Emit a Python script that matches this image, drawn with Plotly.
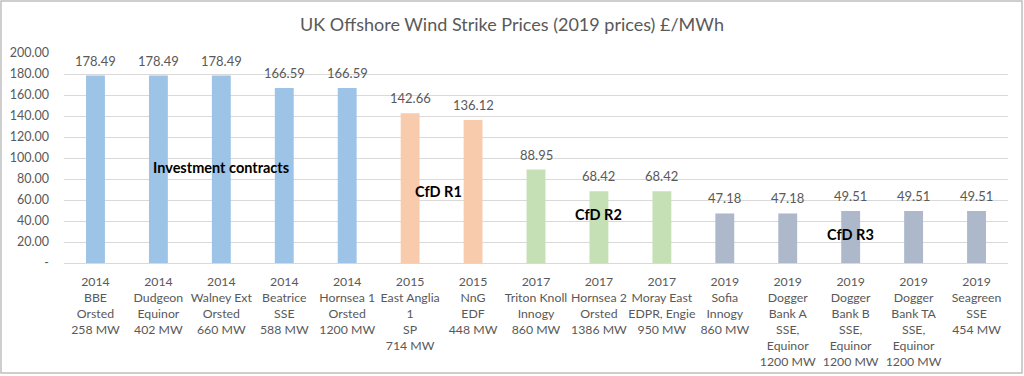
import plotly.graph_objects as go

years = ["2014", "2014", "2014", "2014", "2014", "2015", "2015", "2017", "2017", "2017",
         "2019", "2019", "2019", "2019", "2019"]
projects = ["BBE<br>Orsted<br>258 MW", "Dudgeon<br>Equinor<br>402 MW", "Walney Ext<br>Orsted<br>660 MW",
            "Beatrice<br>SSE<br>588 MW", "Hornsea 1<br>Orsted<br>1200 MW",
            "East Anglia<br>1<br>SP<br>714 MW", "NnG<br>EDF<br>448 MW",
            "Triton Knoll<br>Innogy<br>860 MW", "Hornsea 2<br>Orsted<br>1386 MW",
            "Moray East<br>EDPR, Engie<br>950 MW", "Sofia<br>Innogy<br>860 MW",
            "Dogger<br>Bank A<br>SSE,<br>Equinor<br>1200 MW", "Dogger<br>Bank B<br>SSE,<br>Equinor<br>1200 MW",
            "Dogger<br>Bank TA<br>SSE,<br>Equinor<br>1200 MW", "Seagreen<br>SSE<br>454 MW"]
prices = [178.49, 178.49, 178.49, 166.59, 166.59, 142.66, 136.12, 88.95, 68.42, 68.42,
          47.18, 47.18, 49.51, 49.51, 49.51]
rounds = ["IC", "IC", "IC", "IC", "IC", "R1", "R1", "R2", "R2", "R2", "R3", "R3", "R3", "R3", "R3"]
round_colors = {"IC": "#9DC3E6", "R1": "#F8CBAD", "R2": "#C5E0B4", "R3": "#ADB9CA"}
group_labels = ["Investment contracts", "CfD R1", "CfD R2", "CfD R3"]
group_label_x = [2.0, 5.45, 8.0, 12.0]
group_label_y = [91, 68, 46, 27]

cats = [f"{y}<br>{p}" for y, p in zip(years, projects)]
xs = list(range(len(cats)))

font_family = "Lato, 'Open Sans', sans-serif"
grey = "#595959"

fig = go.Figure()
fig.add_trace(go.Bar(
    x=xs, y=prices,
    marker=dict(color=[round_colors[r] for r in rounds], line=dict(width=0)),
    width=0.3, showlegend=False, hoverinfo="y",
))

for x, v in zip(xs, prices):
    fig.add_annotation(x=x, y=v, text=f"{v:.2f}", showarrow=False, yanchor="bottom",
                       yshift=5, font=dict(size=13, color=grey, family=font_family))

for t, x, y in zip(group_labels, group_label_x, group_label_y):
    fig.add_annotation(x=x, y=y, text=f"<b>{t}</b>", showarrow=False,
                       font=dict(size=14.5, color="#000000", family=font_family))

fig.add_shape(type="rect", xref="paper", yref="paper",
              x0=-63 / 944, x1=1 + 14 / 944, y0=-110 / 210, y1=1 + 52 / 210,
              line=dict(color="#BFBFBF", width=1.5), fillcolor="rgba(0,0,0,0)", layer="below")

fig.update_layout(
    width=1024, height=376,
    margin=dict(l=64, r=16, t=53, b=113, autoexpand=False),
    paper_bgcolor="white", plot_bgcolor="white",
    title=dict(text="UK Offshore Wind Strike Prices (2019 prices) £/MWh", x=0.5, xanchor="center",
               xref="container", y=1 - 25 / 376, yanchor="middle",
               font=dict(size=18, color=grey, family=font_family)),
    font=dict(family=font_family, size=12, color=grey),
    xaxis=dict(tickmode="array", tickvals=xs, ticktext=cats, range=[-0.5, len(cats) - 0.5],
               showgrid=False, showline=True, linecolor="#D9D9D9", linewidth=1, ticks="",
               tickangle=0, automargin=False, ticklabelstandoff=7,
               tickfont=dict(size=12.3, color=grey, family=font_family), zeroline=False),
    yaxis=dict(range=[0, 200], tickvals=[0, 20, 40, 60, 80, 100, 120, 140, 160, 180, 200],
               ticktext=["-", "20.00", "40.00", "60.00", "80.00", "100.00", "120.00", "140.00",
                         "160.00", "180.00", "200.00"],
               showgrid=True, gridcolor="#D9D9D9", gridwidth=1, zeroline=False, ticks="",
               automargin=False,
               ticklabelstandoff=14, tickfont=dict(size=12.5, color=grey, family=font_family)),
    bargap=0.7,
)

fig.write_html("out.html", config={"displayModeBar": False},
               post_script="document.body.style.margin='0';document.body.style.overflow='hidden';")
